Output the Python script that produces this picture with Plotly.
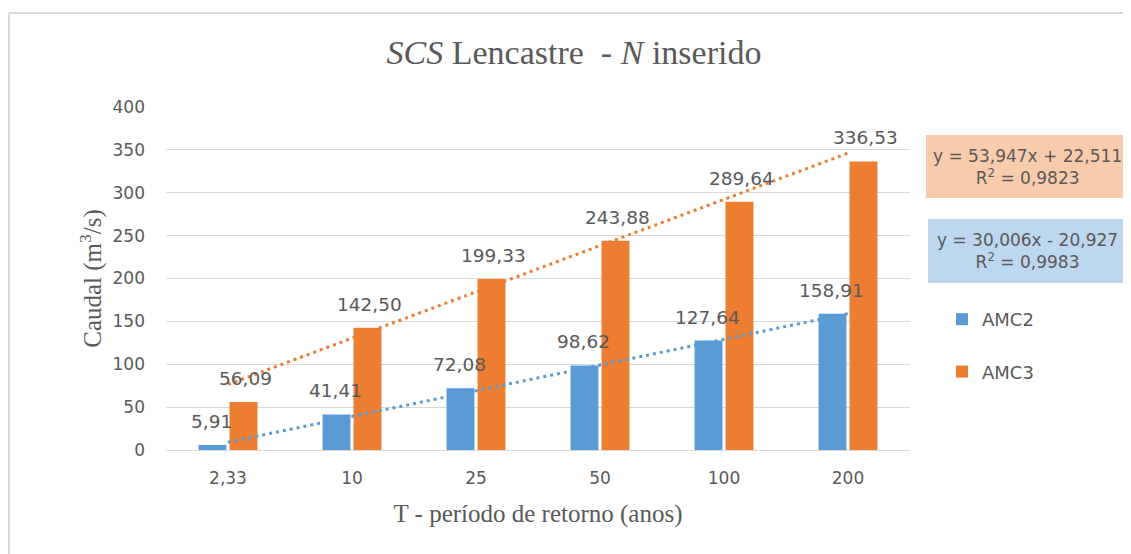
import numpy as np
import plotly.graph_objects as go

# ---- data ----
categories = ["2,33", "10", "25", "50", "100", "200"]
amc2 = [5.91, 41.41, 72.08, 98.62, 127.64, 158.91]
amc3 = [56.09, 142.50, 199.33, 243.88, 289.64, 336.53]
series_names = ["AMC2", "AMC3"]
eq_amc3 = ["y = 53,947x + 22,511", "R² = 0,9823"]
eq_amc2 = ["y = 30,006x - 20,927", "R² = 0,9983"]
y_ticks = [0, 50, 100, 150, 200, 250, 300, 350, 400]

# ---- style ----
OFF = 8  # page body margin
W, H = 1131 - OFF, 554 - OFF
L, R, T, B = 158, 221, 99, 104
PW, PH = W - L - R, H - T - B
BLUE, ORANGE = "#5B9BD5", "#ED7D31"
TXT = "#595959"
SANS = "DejaVu Sans"
SERIF = "Liberation Serif"


def px_x(px):  # screen px -> paper
    return (px - OFF - L) / PW


def px_y(py):
    return (H - B - (py - OFF)) / PH


fig = go.Figure()
for name, vals, col, grp in [(series_names[0], amc2, BLUE, "g1"), (series_names[1], amc3, ORANGE, "g2")]:
    fig.add_trace(go.Bar(x=categories, y=vals, name=name, marker_color=col,
                         marker_line_width=0, legendgroup=grp))

# linear trendlines (fit on category index 1..6)
xi = np.arange(1, len(categories) + 1)
for vals, col in [(amc2, BLUE), (amc3, ORANGE)]:
    k, c = np.polyfit(xi, vals, 1)
    fig.add_trace(go.Scatter(x=categories, y=k * xi + c, mode="lines", showlegend=False,
                             line=dict(color=col, width=3, dash="3px,4px"), hoverinfo="skip"))

annotations = []
# data labels
for vals, shift in [(amc2, -17), (amc3, 17)]:
    for i, v in enumerate(vals):
        annotations.append(dict(x=i, y=v, xref="x", yref="y", text=f"{v:.2f}".replace(".", ","),
                                showarrow=False, xshift=shift, yshift=11, yanchor="bottom",
                                font=dict(family=SANS, size=18.5, color=TXT)))

shapes = []
# equation boxes
for eq, col, (x0, x1, y0, y1) in [(eq_amc3, "#F8CBAD", (926, 1133, 135, 198)),
                                   (eq_amc2, "#BDD7EE", (928, 1123, 219, 283))]:
    shapes.append(dict(type="rect", xref="paper", yref="paper", x0=px_x(x0), x1=px_x(x1),
                       y0=px_y(y1), y1=px_y(y0), fillcolor=col, line_width=0, layer="below"))
    annotations.append(dict(xref="paper", yref="paper", x=px_x(1027), y=px_y((y0 + y1) / 2),
                            xanchor="center", yanchor="middle", align="center",
                            text="<br>".join(eq).replace("R²", "R<sup>2</sup>"), showarrow=False,
                            font=dict(family=SANS, size=17, color=TXT)))

# outer chart border (left and top)
shapes.append(dict(type="line", xref="paper", yref="paper", x0=px_x(9), x1=px_x(9),
                   y0=px_y(13), y1=px_y(560), line=dict(color="#D9D9D9", width=2)))
shapes.append(dict(type="line", xref="paper", yref="paper", x0=px_x(9), x1=px_x(1140),
                   y0=px_y(13), y1=px_y(13), line=dict(color="#D9D9D9", width=2)))

fig.update_layout(
    width=W, height=H,
    margin=dict(l=L, r=R, t=T, b=B, pad=0),
    paper_bgcolor="white", plot_bgcolor="white",
    separators=",.",
    barmode="group", bargap=0.5, bargroupgap=0.1,
    title=dict(text="<i>SCS</i> Lencastre\u00a0 - <i>N</i> inserido", xref="container",
               x=(574 - OFF) / W, xanchor="center", yref="container", y=1 - (52 - OFF) / H,
               yanchor="middle", font=dict(family=SERIF, size=34, color=TXT)),
    xaxis=dict(type="category", range=[-0.5, len(categories) - 0.5], showgrid=False,
               showline=False, ticks="", ticklabelstandoff=16,
               tickfont=dict(family=SANS, size=17, color=TXT),
               title=dict(text="T - período de retorno (anos)", standoff=17,
                          font=dict(family=SERIF, size=25, color=TXT))),
    yaxis=dict(range=[0, 400], tickvals=y_ticks, showgrid=True, gridcolor="#D9D9D9", gridwidth=1,
               zeroline=True, zerolinecolor="#D9D9D9", zerolinewidth=1, showline=False, ticks="",
               ticklabelstandoff=20, tickfont=dict(family=SANS, size=17, color=TXT),
               title=dict(text="Caudal (m<sup>3</sup>/s)", standoff=3,
                          font=dict(family=SERIF, size=25, color=TXT))),
    legend=dict(x=px_x(942), xanchor="left", y=px_y(301), yanchor="top", traceorder="grouped",
                tracegroupgap=26, font=dict(family=SANS, size=18, color=TXT),
                bgcolor="rgba(0,0,0,0)"),
    annotations=annotations,
    shapes=shapes,
)

fig.write_html("out.html")
